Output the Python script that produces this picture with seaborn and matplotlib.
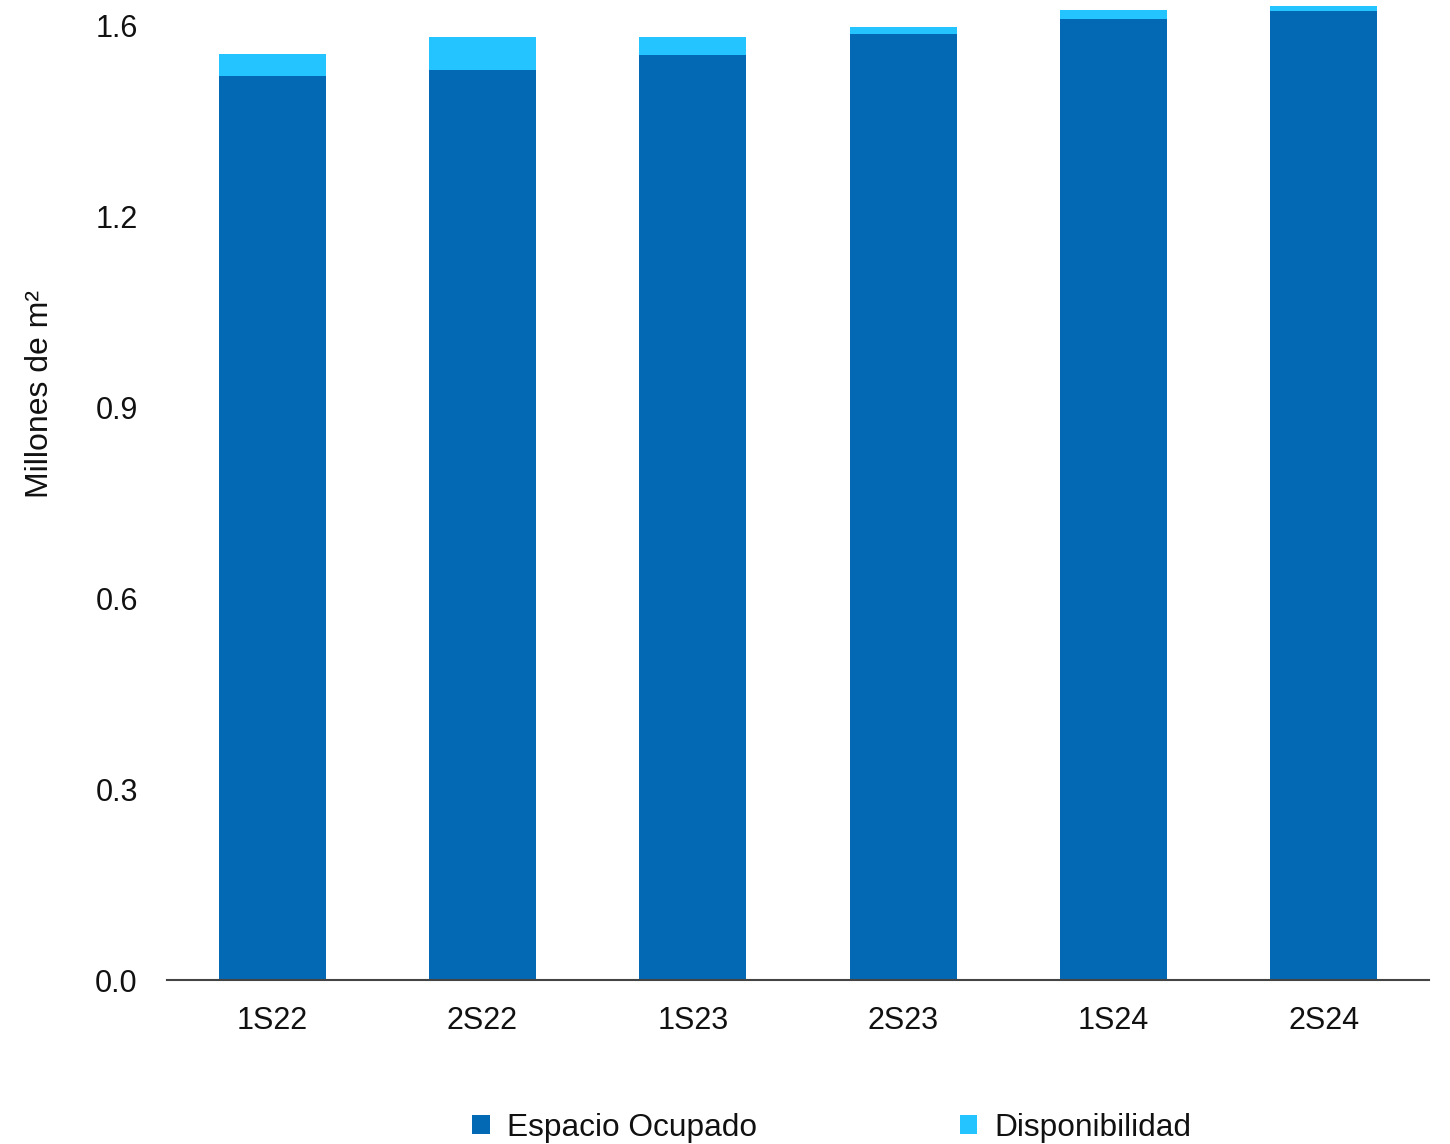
import matplotlib
matplotlib.use("Agg")
import matplotlib.pyplot as plt
from matplotlib.patches import Patch
import seaborn as sns
import pandas as pd

# Semesters and surface (millions of m²)
periodos = ["1S22", "2S22", "1S23", "2S23", "1S24", "2S24"]
espacio_ocupado = [1.514, 1.525, 1.550, 1.585, 1.611, 1.624]
disponibilidad = [0.037, 0.055, 0.030, 0.011, 0.015, 0.008]

y_ticks = [0.0, 0.32, 0.64, 0.96, 1.28, 1.6]
y_tick_labels = ["0.0", "0.3", "0.6", "0.9", "1.2", "1.6"]

color_ocupado = "#0469B4"
color_disp = "#23C4FF"

df = pd.DataFrame({
    "periodo": periodos,
    "ocupado": espacio_ocupado,
    "total": [o + d for o, d in zip(espacio_ocupado, disponibilidad)],
})

sns.set_theme(style="white")
plt.rcParams["font.family"] = ["Liberation Sans", "DejaVu Sans"]
plt.rcParams["text.color"] = "#111111"

fig = plt.figure(figsize=(14.5, 11.44), dpi=100)
ax = fig.add_axes([167 / 1450, 1 - 980 / 1144, (1429 - 167) / 1450, 980 / 1144])

# Stacked bars: total first (availability on top), occupied drawn over it
sns.barplot(data=df, x="periodo", y="total", color=color_disp, width=0.51,
            saturation=1, edgecolor="none", ax=ax)
sns.barplot(data=df, x="periodo", y="ocupado", color=color_ocupado, width=0.51,
            saturation=1, edgecolor="none", ax=ax)

ax.set_xlim(-0.5, len(periodos) - 0.5)
ax.set_ylim(0, 1.642)
ax.set_yticks(y_ticks)
ax.set_yticklabels(y_tick_labels)
ax.set_xlabel("")
ax.set_ylabel("Millones de m²", fontsize=23, color="#111111")
ax.yaxis.set_label_coords(-0.0888, 0.598)

ax.tick_params(axis="y", length=0, pad=21, labelsize=22, labelcolor="#111111")
ax.tick_params(axis="x", length=0, pad=19, labelsize=22, labelcolor="#111111")

for side in ["left", "right", "top"]:
    ax.spines[side].set_visible(False)
ax.spines["bottom"].set_color("#444444")
ax.spines["bottom"].set_linewidth(1.5)

handles = [Patch(facecolor=color_ocupado, edgecolor="none", label="Espacio Ocupado"),
           Patch(facecolor=color_disp, edgecolor="none", label="Disponibilidad")]
fig.legend(handles=handles, loc="center", bbox_to_anchor=(832 / 1450, 1 - 1128 / 1144),
           ncol=2, frameon=False, fontsize=22.8, handlelength=0.55, handleheight=0.55,
           handletextpad=0.55, columnspacing=6.4, labelcolor="#111111")

fig.savefig("out.png", dpi=100)
